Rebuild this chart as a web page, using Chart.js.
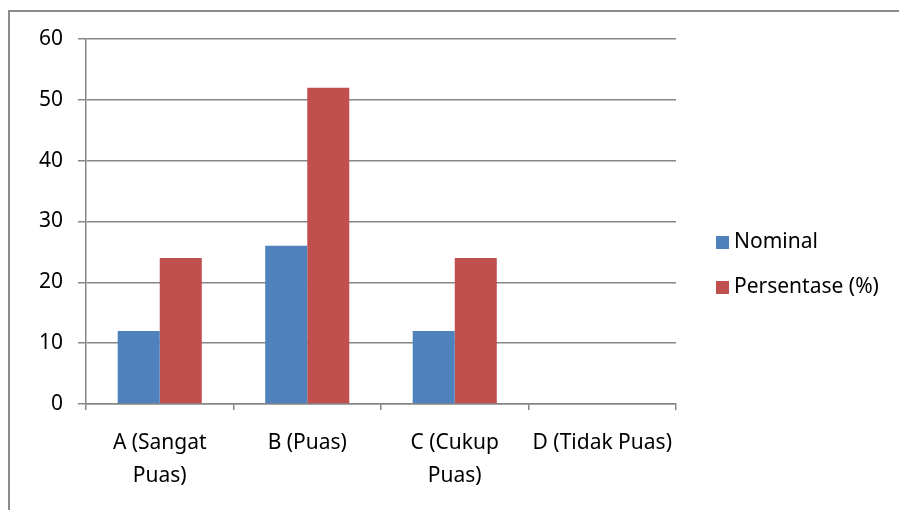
<html>
<head>
<meta charset="utf-8">
<style>
  body { margin: 0; background: #fff; font-family: "Noto Sans", sans-serif; }
  #frame { position: absolute; left: 8px; top: 10px; width: 900px; height: 510px; border-left: 2px solid #8c8c8c; border-top: 2px solid #8c8c8c; }
  #wrap { position: absolute; left: 0; top: 0; width: 899px; height: 510px; }
  #legend { position: absolute; left: 716px; top: 225px; font-size: 21px; color: #000; }
  #legend div { height: 45px; line-height: 30px; white-space: nowrap; }
  #legend span.box { display: inline-block; width: 13px; height: 13px; margin-right: 5px; vertical-align: -1px; }
</style>
</head>
<body>
<div id="frame"></div>
<div id="wrap"><canvas id="myChart" width="899" height="510"></canvas></div>
<div id="legend"></div>

<script src="https://cdn.jsdelivr.net/npm/chart.js"></script>
<script>
  let categories = [['A (Sangat', 'Puas)'], 'B (Puas)', ['C (Cukup', 'Puas)'], 'D (Tidak Puas)'];
  let nominal = [12, 26, 12, 0];
  let persentase = [24, 52, 24, 0];
  let seriesNames = ['Nominal', 'Persentase (%)'];
  let seriesColors = ['#4F81BD', '#C0504D'];

  // legend as html text
  let legendHtml = '';
  for (let i = 0; i < seriesNames.length; i++) {
    legendHtml += '<div><span class="box" style="background:' + seriesColors[i] + '"></span>' + seriesNames[i] + '</div>';
  }
  document.getElementById('legend').innerHTML = legendHtml;

  const ctx = document.getElementById('myChart');
  var chart = new Chart(ctx, {
    type: 'bar',
    data: {
      labels: categories,
      datasets: [
        { label: seriesNames[0], data: nominal, backgroundColor: seriesColors[0], categoryPercentage: 0.57, barPercentage: 1 },
        { label: seriesNames[1], data: persentase, backgroundColor: seriesColors[1], categoryPercentage: 0.57, barPercentage: 1 }
      ]
    },
    options: {
      responsive: false,
      animation: false,
      layout: { padding: { top: 39, right: 223, left: 0, bottom: 0 } },
      plugins: {
        legend: { display: false },
        tooltip: { enabled: false }
      },
      scales: {
        x: {
          offset: true,
          grid: { offset: true, drawOnChartArea: false, tickLength: 6, color: '#868686', lineWidth: 1.5 },
          border: { color: '#868686', width: 1.5 },
          ticks: { color: '#000', font: { family: 'Noto Sans', size: 21, lineHeight: 1.55 }, padding: 17, maxRotation: 0, autoSkip: false },
          afterFit: function (scale) { scale.height = 106; }
        },
        y: {
          min: 0,
          max: 60,
          ticks: { stepSize: 10, color: '#000', font: { family: 'Noto Sans', size: 21 }, padding: 15, align: 'center' },
          grid: { color: '#868686', lineWidth: 1.5, tickLength: 8 },
          border: { color: '#868686', width: 1.5 },
          afterFit: function (scale) { scale.width = 86; }
        }
      }
    }
  });
</script>
</body>
</html>
